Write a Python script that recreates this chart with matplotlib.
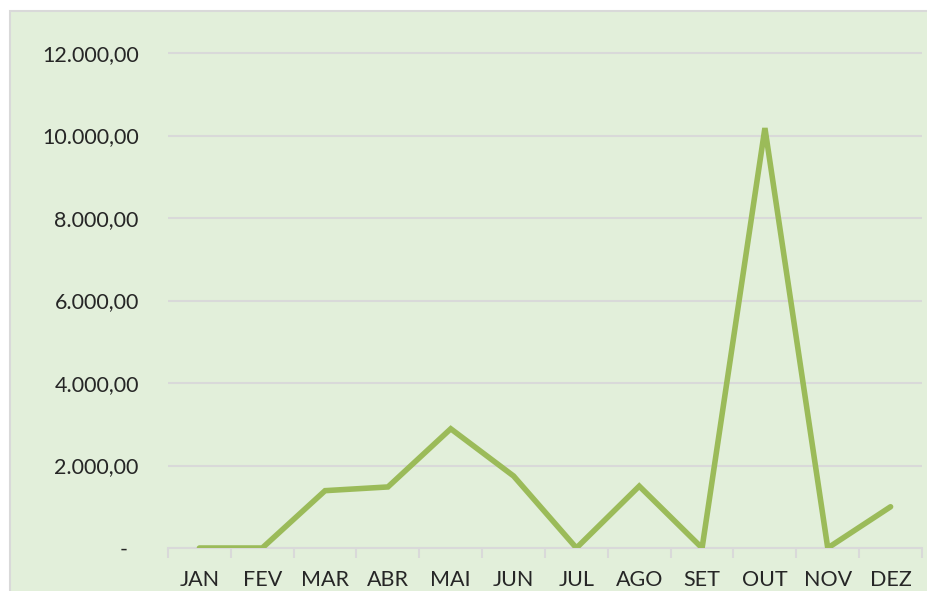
import matplotlib
matplotlib.use("Agg")
import matplotlib.pyplot as plt
from matplotlib.patches import Rectangle

months = ["JAN", "FEV", "MAR", "ABR", "MAI", "JUN", "JUL", "AGO", "SET", "OUT", "NOV", "DEZ"]
values = [0, 0, 1390, 1480, 2890, 1745, 0, 1500, 0, 10180, 0, 1000]
yticks = [0, 2000, 4000, 6000, 8000, 10000, 12000]

plt.rcParams['font.family'] = ['Lato', 'DejaVu Sans']

W, H = 928, 591
fig = plt.figure(figsize=(W / 100, H / 100), dpi=100)
fig.patch.set_facecolor("white")
bg = Rectangle((10 / W, -5 / H), (W - 10 + 5) / W, (H - 11 + 5) / H, transform=fig.transFigure,
               facecolor="#E2EFDA", edgecolor="#D9D9D9", linewidth=1.5, zorder=-10)
fig.patches.append(bg)

ytop = 12100
top_px = 548 - (548 - 53) * ytop / 12000
ax = fig.add_axes([168 / W, 1 - 548 / H, (922 - 168) / W, (548 - top_px) / H])
ax.set_zorder(5)
ax.set_facecolor("none")
x = list(range(len(months)))
ax.plot(x, values, color="#9BBB59", linewidth=4.0, solid_capstyle="round", solid_joinstyle="miter", zorder=3)
ax.set_xlim(-0.5, len(months) - 0.5)
ax.set_ylim(0, ytop)

ax.set_yticks(yticks)
def fmt(v):
    if v == 0:
        return "-  "
    s = f"{v:,.2f}"
    return s.replace(",", "X").replace(".", ",").replace("X", ".")
ax.set_yticklabels([fmt(v) for v in yticks])
ax.set_xticks(x)
ax.set_xticklabels(months)
ax.set_xticks([i - 0.5 for i in range(len(months) + 1)], minor=True)

for s in ["top", "right", "left"]:
    ax.spines[s].set_visible(False)
ax.spines["bottom"].set_color("#D9D9D9")
ax.spines["bottom"].set_linewidth(1.5)
ax.grid(axis="y", color="#D9D9D9", linewidth=1.5, zorder=1)
ax.set_axisbelow(True)
ax.tick_params(axis="y", length=0, pad=21, labelsize=15.5, labelcolor="#262626")
ax.tick_params(axis="x", which="major", length=0, pad=16, labelsize=15.5, labelcolor="#262626")
ax.tick_params(axis="x", which="minor", length=7, width=1.5, color="#D9D9D9")

fig.savefig("out.png", dpi=100)
